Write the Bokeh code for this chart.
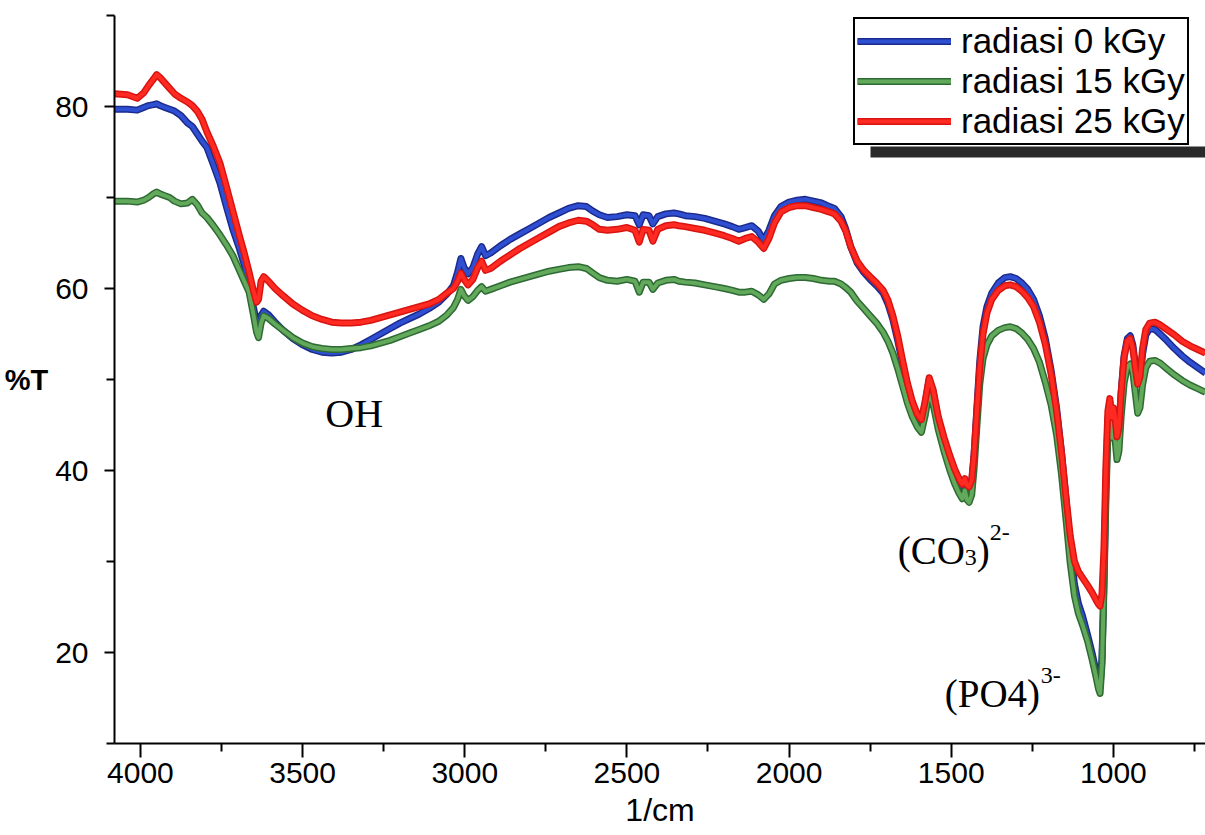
from bokeh.plotting import figure
from bokeh.models import (Range1d, FixedTicker, Legend, LegendItem, Label,
                          BoxAnnotation, ColumnDataSource)
from bokeh.embed import file_html
from bokeh.resources import INLINE

# ---------------- data ----------------
wavenumber = [
    4080, 4040, 4010, 3990, 3975, 3960, 3950, 3940, 3925, 3910,
    3895, 3875, 3855, 3840, 3825, 3810, 3795, 3775, 3755, 3735,
    3715, 3695, 3680, 3665, 3652, 3642, 3636, 3628, 3620, 3605,
    3585, 3560, 3530, 3500, 3470, 3440, 3410, 3380, 3350, 3320,
    3290, 3260, 3230, 3200, 3170, 3140, 3110, 3080, 3055, 3035,
    3022, 3012, 3002, 2990, 2975, 2960, 2948, 2936, 2920, 2890,
    2860, 2830, 2800, 2770, 2740, 2710, 2680, 2650, 2625, 2605,
    2585,
    2560, 2530, 2500, 2475, 2462, 2450, 2432, 2420, 2405, 2380,
    2355, 2340, 2320, 2290, 2260, 2230, 2200, 2175, 2155, 2135,
    2115, 2095, 2078, 2062, 2045, 2025, 2000, 1975, 1950, 1925,
    1900, 1875, 1860, 1840, 1825, 1810, 1790, 1770, 1750, 1730,
    1710, 1695, 1680, 1665, 1650, 1635, 1620, 1605, 1592, 1580,
    1568, 1556, 1540, 1522, 1505, 1490, 1476, 1466, 1458, 1452,
    1445, 1437, 1430, 1421, 1412, 1402, 1390, 1375, 1355, 1335,
    1318, 1300, 1282, 1264, 1246, 1228, 1210, 1192, 1175, 1160,
    1146, 1133, 1120, 1108, 1095, 1080, 1066, 1054, 1046, 1041,
    1035, 1029, 1023, 1017, 1011, 1005, 1000, 995, 989, 983,
    976, 967, 957, 948, 940, 932, 925, 918, 910, 900,
    888, 872, 856, 836, 812, 788, 764, 740, 716,
]

t_0kgy = [
    79.7, 79.7, 79.6, 79.9, 80.1, 80.2, 80.3, 80.1, 79.9, 79.7,
    79.5, 79.0, 78.2, 77.8, 77.0, 76.2, 75.5, 73.6, 71.6, 69.0,
    66.5, 64.4, 62.6, 60.3, 58.0, 56.3, 55.8, 57.0, 57.5, 57.1,
    56.3, 55.4, 54.5, 53.8, 53.3, 53.0, 52.9, 53.0, 53.3, 53.8,
    54.4, 55.0, 55.6, 56.2, 56.7, 57.2, 57.8, 58.5, 59.4, 60.3,
    61.8, 63.3, 62.3, 61.6, 62.3, 63.8, 64.6, 63.6, 63.9, 64.7,
    65.4, 66.0, 66.6, 67.2, 67.8, 68.3, 68.8, 69.1, 69.0, 68.5,
    68.1,
    67.8, 67.9, 68.1, 68.0, 67.0, 68.1, 68.0, 67.1, 67.9, 68.2,
    68.3, 68.2, 68.0, 67.9, 67.7, 67.4, 67.1, 66.8, 66.5, 66.7,
    66.9, 66.3, 65.3, 66.4, 68.0, 69.0, 69.5, 69.7, 69.8, 69.6,
    69.4, 69.0, 68.8, 67.9, 66.5, 64.6, 62.8, 61.8, 61.0, 60.3,
    59.5, 58.3, 56.6, 54.3, 51.7, 49.2, 47.3, 45.9, 45.3, 47.4,
    50.0, 48.7, 45.6, 43.3, 41.4, 39.9, 38.8, 38.2, 38.7, 38.0,
    37.8, 38.6, 41.5, 46.8, 52.0, 55.8, 58.0, 59.5, 60.6, 61.2,
    61.3, 61.1, 60.6, 59.9, 58.8, 57.0, 54.5, 51.0, 46.8, 42.0,
    36.8, 31.5, 27.5, 25.4, 24.0, 22.0, 20.0, 18.0, 16.7, 16.2,
    19.5, 28.0, 38.5, 45.5, 47.5, 45.5, 46.8, 45.8, 43.5, 44.5,
    48.6, 52.6, 54.5, 54.8, 53.8, 51.4, 49.5, 50.0, 52.8, 54.9,
    55.6, 55.5, 55.0, 54.3, 53.4, 52.6, 51.9, 51.3, 50.7,
]

t_15kgy = [
    69.6, 69.6, 69.5, 69.7, 70.0, 70.4, 70.6, 70.4, 70.2, 70.0,
    69.6, 69.3, 69.4, 69.8, 69.2, 68.3, 67.8, 66.9, 65.9, 64.8,
    63.6, 62.0, 60.8, 59.6, 57.2, 55.2, 54.6, 56.2, 57.0, 56.7,
    56.1, 55.4, 54.6, 54.0, 53.6, 53.4, 53.3, 53.3, 53.4, 53.5,
    53.7, 54.0, 54.3, 54.7, 55.1, 55.5, 55.9, 56.4, 57.1, 57.9,
    58.8, 59.9, 59.2, 58.7, 59.1, 59.8, 60.2, 59.7, 59.9, 60.3,
    60.7, 61.0, 61.3, 61.6, 61.9, 62.1, 62.3, 62.4, 62.2, 61.7,
    61.2,
    60.9, 60.8, 61.0, 60.8, 59.6, 60.7, 60.7, 59.9, 60.6, 60.9,
    61.0, 60.8, 60.7, 60.6, 60.4, 60.2, 60.0, 59.8, 59.6, 59.6,
    59.7, 59.3, 58.8, 59.4, 60.5, 60.9, 61.1, 61.2, 61.2, 61.1,
    60.9, 60.8, 60.8, 60.5, 60.1, 59.6, 58.6, 57.8, 57.0, 56.2,
    55.2, 54.2, 52.9, 51.2, 49.3, 47.4, 45.9, 44.8, 44.2, 46.1,
    48.7, 47.3, 44.5, 42.1, 40.1, 38.6, 37.5, 36.9, 37.8, 36.8,
    36.5, 37.3, 40.0, 44.8, 49.5, 52.3, 53.8, 54.8, 55.4, 55.7,
    55.8, 55.6, 55.1, 54.4, 53.4, 51.9, 49.7, 47.2, 43.9, 39.6,
    34.6, 29.8, 26.2, 24.3, 23.0, 21.3, 19.3, 17.4, 16.0, 15.5,
    18.8, 27.2, 37.0, 43.8, 45.8, 43.6, 44.7, 43.5, 41.2, 42.1,
    46.0, 49.6, 51.4, 51.7, 50.8, 48.4, 46.3, 46.9, 49.4, 51.3,
    52.0, 52.1, 51.8, 51.2, 50.5, 49.9, 49.4, 49.0, 48.6,
]

t_25kgy = [
    81.4, 81.3, 80.9, 81.5, 82.3, 83.0, 83.5, 83.2, 82.6, 82.0,
    81.4, 80.9, 80.5, 80.1, 79.5, 78.6, 77.2, 75.6, 73.8, 71.2,
    68.5, 65.8, 63.9, 61.8, 59.8, 58.5, 58.8, 60.8, 61.3, 60.8,
    60.0, 59.2, 58.3, 57.6, 57.0, 56.6, 56.3, 56.2, 56.2, 56.3,
    56.5, 56.8, 57.1, 57.4, 57.7, 58.0, 58.3, 58.8, 59.5, 60.0,
    60.8, 61.7, 61.0, 60.4, 61.0, 62.3, 63.0, 62.0, 62.2, 63.0,
    63.7, 64.4, 65.0, 65.6, 66.2, 66.8, 67.2, 67.5, 67.4, 67.0,
    66.5,
    66.4, 66.5, 66.7, 66.4, 65.1, 66.5, 66.4, 65.2, 66.5, 66.9,
    67.0, 66.9, 66.8, 66.6, 66.4, 66.1, 65.8, 65.5, 65.2, 65.5,
    65.7, 65.1, 64.4, 65.5, 67.2, 68.4, 68.9, 69.1, 69.1, 68.9,
    68.7, 68.4, 68.2, 67.4, 66.3, 64.6, 63.0, 62.0, 61.3, 60.6,
    59.8, 58.7, 57.0, 54.8, 52.1, 49.6, 47.6, 46.2, 45.6, 47.7,
    50.2, 48.9, 45.9, 43.6, 41.7, 40.2, 39.1, 38.5, 39.1, 38.4,
    38.2, 38.9, 41.5, 46.5, 51.3, 55.0, 57.3, 58.8, 59.8, 60.3,
    60.4, 60.2, 59.7, 59.0, 58.0, 56.3, 53.9, 50.6, 46.5, 42.0,
    37.0, 32.8, 30.0, 28.9, 28.2, 27.4, 26.6, 25.8, 25.3, 25.1,
    26.5, 31.5, 40.5, 46.5, 47.9, 45.8, 46.9, 45.9, 43.7, 44.7,
    48.6, 52.4, 54.2, 54.5, 53.4, 51.2, 49.5, 50.3, 53.4, 55.5,
    56.2, 56.3, 56.0, 55.5, 54.9, 54.2, 53.7, 53.3, 52.9,
]

series_labels = ["radiasi 0 kGy", "radiasi 15 kGy", "radiasi 25 kGy"]
x_ticks = [4000, 3500, 3000, 2500, 2000, 1500, 1000]
x_minor = [3750, 3250, 2750, 2250, 1750, 1250, 750]
y_ticks = [20, 40, 60, 80]
y_minor = [10, 30, 50, 70, 90]

assert len(wavenumber) == len(t_0kgy) == len(t_15kgy) == len(t_25kgy)

src = ColumnDataSource(dict(w=wavenumber, a=t_0kgy, b=t_15kgy, c=t_25kgy))

p = figure(width=1205, height=835,
           x_range=Range1d(4080, 716), y_range=Range1d(10, 90),
           output_backend="svg", toolbar_location=None,
           min_border_left=114, min_border_right=0,
           min_border_top=15, min_border_bottom=92)
p.grid.visible = False
p.outline_line_color = None
p.background_fill_color = "white"
p.border_fill_color = "white"

styles = [("a", "#1c2a8c", "#2f4fd2"),
          ("b", "#2e6a33", "#62a95c"),
          ("c", "#d81410", "#ff2a22")]
items = []
for (col, dark, light), lab in zip(styles, series_labels):
    r1 = p.line("w", col, source=src, line_color=dark, line_width=7,
                line_join="round")
    r2 = p.line("w", col, source=src, line_color=light, line_width=4,
                line_join="round")
    items.append(LegendItem(label=lab, renderers=[r1, r2]))

# axes
font = "Liberation Sans"
xa = p.xaxis[0]
xa.ticker = FixedTicker(ticks=x_ticks, minor_ticks=x_minor)
xa.axis_label = "1/cm"
ya = p.yaxis[0]
ya.ticker = FixedTicker(ticks=y_ticks, minor_ticks=y_minor)
ya.axis_label = "%T"
ya.axis_label_orientation = "horizontal"
for ax in (xa, ya):
    ax.axis_line_width = 2
    ax.major_tick_line_width = 2
    ax.minor_tick_line_width = 2
    ax.major_tick_in = 0
    ax.minor_tick_in = 0
    ax.major_label_text_font = font
    ax.major_label_text_font_size = "30px"
    ax.major_label_text_color = "black"
    ax.axis_label_text_font = font
    ax.axis_label_text_color = "black"
xa.major_tick_out = 14
xa.minor_tick_out = 8
xa.major_label_standoff = 5
xa.axis_label_standoff = 6
xa.axis_label_text_font_size = "32px"
xa.axis_label_text_font_style = "normal"
ya.major_tick_out = 10
ya.minor_tick_out = 8
ya.major_label_standoff = 16
ya.axis_label_standoff = 4
ya.axis_label_text_font_size = "29px"
ya.axis_label_text_font_style = "bold"

# legend with its dark drop shadow
shadow = BoxAnnotation(left=870, right=1205, top=146, bottom=157,
                       left_units="canvas", right_units="canvas",
                       top_units="canvas", bottom_units="canvas",
                       fill_color="#2a2a2a", fill_alpha=1, line_color=None)
p.add_layout(shadow)
leg = Legend(items=items, location=(739, 598), orientation="vertical",
             border_line_color="black", border_line_width=2,
             border_line_alpha=1,
             background_fill_color="white", background_fill_alpha=1,
             label_text_font=font, label_text_font_size="35px",
             label_text_color="black",
             glyph_width=94, glyph_height=38, label_height=38,
             label_standoff=10, spacing=0, padding=2, margin=0)
p.add_layout(leg)

# band annotations
serif = "Liberation Serif"
def lab(x, y, text, size, dx=0, dy=0):
    p.add_layout(Label(x=x, y=y, text=text, x_offset=dx, y_offset=dy,
                       text_font=serif, text_font_size=size,
                       text_color="black", text_baseline="alphabetic",
                       text_align="left"))

lab(3430, 46.3, "OH", "40px")
lab(1665, 31.2, "(CO", "39px")
lab(1665, 31.2, "3", "24px", dx=67, dy=-7)
lab(1665, 31.2, ")", "39px", dx=79)
lab(1665, 31.2, "2-", "24px", dx=92, dy=18)
lab(1520, 15.5, "(PO4)", "39px")
lab(1520, 15.5, "3-", "24px", dx=96, dy=18)

open("out.html", "w").write(file_html(p, INLINE))
